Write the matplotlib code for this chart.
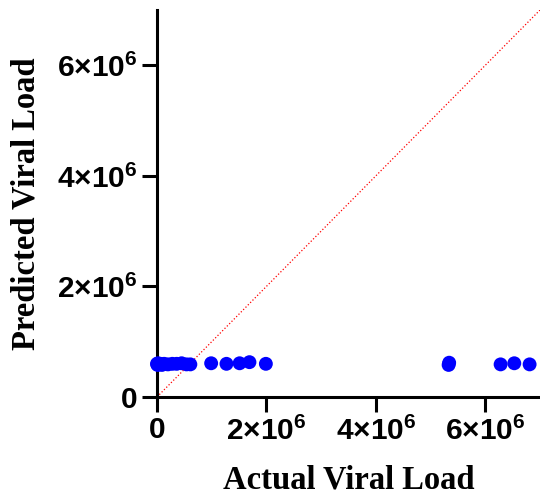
import matplotlib
matplotlib.use("Agg")
import matplotlib.pyplot as plt
from matplotlib.ticker import FixedLocator, FixedFormatter

# ============================================================
# DATA
# ============================================================

actual = [
    0, 10e3, 20e3, 35e3, 60e3, 90e3, 130e3, 200e3, 280e3,
    360e3, 450e3, 540e3, 610e3,
    0.99e6, 1.27e6, 1.51e6, 1.69e6, 1.99e6,
    5.33e6, 5.34e6, 6.28e6, 6.53e6, 6.81e6,
]
predicted = [
    0.60e6, 0.58e6, 0.61e6, 0.59e6, 0.60e6, 0.58e6, 0.60e6, 0.59e6, 0.60e6,
    0.60e6, 0.61e6, 0.59e6, 0.59e6,
    0.61e6, 0.60e6, 0.61e6, 0.63e6, 0.60e6,
    0.58e6, 0.62e6, 0.59e6, 0.61e6, 0.59e6,
]

tick_values = [0, 2e6, 4e6, 6e6]
tick_labels = ["0", r"2×10$^{\mathbf{6}}$", r"4×10$^{\mathbf{6}}$", r"6×10$^{\mathbf{6}}$"]
axis_max = 7e6

# ============================================================
# PLOT
# ============================================================

plt.rcParams["mathtext.fontset"] = "custom"
plt.rcParams["mathtext.bf"] = "Liberation Sans:bold"
plt.rcParams["mathtext.rm"] = "Liberation Sans:bold"

fig = plt.figure(figsize=(5.4, 4.95), dpi=100)
ax = fig.add_axes([0.2907, 0.198, 0.7093, 0.7818])

ax.plot([0, axis_max], [0, axis_max], linestyle=":", color="red",
        linewidth=0.9, zorder=1)
ax.scatter(actual, predicted, s=100, color="#0000ff", edgecolors="none",
           zorder=3, clip_on=False)

ax.set_xlim(0, axis_max)
ax.set_ylim(0, axis_max)

for axis in (ax.xaxis, ax.yaxis):
    axis.set_major_locator(FixedLocator(tick_values))
    axis.set_major_formatter(FixedFormatter(tick_labels))

for label in ax.get_xticklabels() + ax.get_yticklabels():
    label.set_fontfamily("Liberation Sans")
    label.set_fontweight("bold")
    label.set_fontsize(21.5)

ax.tick_params(direction="out", length=11, width=2.2, pad=3)

for side in ("top", "right"):
    ax.spines[side].set_visible(False)
for side in ("left", "bottom"):
    ax.spines[side].set_linewidth(2.2)

ax.set_xlabel("Actual Viral Load", fontfamily="Liberation Serif",
              fontweight="bold", fontsize=23.5, labelpad=13)
ax.set_ylabel("Predicted Viral Load", fontfamily="Liberation Serif",
              fontweight="bold", fontsize=23.5, labelpad=11)

fig.savefig("out.png", dpi=100)
